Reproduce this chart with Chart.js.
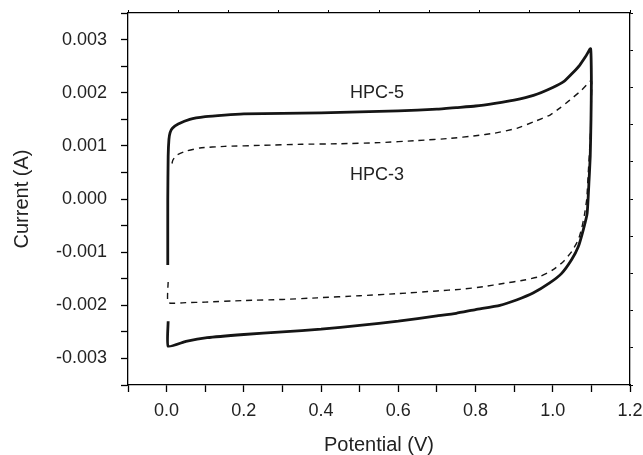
<!DOCTYPE html>
<html>
<head>
<meta charset="utf-8">
<script src="https://cdn.jsdelivr.net/npm/chart.js@4/dist/chart.umd.min.js"></script>
<style>
	body { margin: 0; background: #fff; }
	#wrap { width: 643px; height: 455px; position: relative; }
</style>
</head>
<body>
<div id="wrap"><canvas id="cv"></canvas></div>
<script>
// HPC-5 loop (solid), potential in V, current in A
const hpc5Potential = [0.003, 0.003, 0.004, 0.006, 0.009, 0.015, 0.03, 0.06, 0.1, 0.15, 0.2, 0.3, 0.4, 0.5, 0.6, 0.7, 0.75, 0.8, 0.85, 0.9, 0.95, 1.0, 1.03, 1.05, 1.07, 1.085, 1.098,
	1.1, 1.099, 1.097, 1.094, 1.089, 1.079, 1.066, 1.049, 1.023, 0.992, 0.949, 0.906, 0.863, 0.8, 0.75, 0.7, 0.6, 0.5, 0.4, 0.3, 0.2, 0.105, 0.05, 0.004, 0.004];
const hpc5Current = [-0.00124, 0.0, 0.0008, 0.00112, 0.00125, 0.00133, 0.00141, 0.0015, 0.00155, 0.00158, 0.0016, 0.00161, 0.00162, 0.00164, 0.00166, 0.00169, 0.00172, 0.00175, 0.0018, 0.00186, 0.00195, 0.0021, 0.00222, 0.00236, 0.00252, 0.00268, 0.00283,
	0.0022, 0.0015, 0.0008, 0.00036, -0.00027, -0.00058, -0.0009, -0.00114, -0.0014, -0.00158, -0.00177, -0.0019, -0.002, -0.00208, -0.00215, -0.0022, -0.0023, -0.00238, -0.00245, -0.0025, -0.00255, -0.00261, -0.00268, -0.00277, -0.0023];

// HPC-3 loop (dashed)
const hpc3Potential = [0.004, 0.004, 0.05, 0.1, 0.2, 0.3, 0.39, 0.5, 0.6, 0.7, 0.76, 0.82, 0.871, 0.923, 0.966, 1.001, 1.027, 1.049, 1.066, 1.075, 1.082, 1.088, 1.092, 1.096, 1.099, 1.1, 1.1,
	1.075, 1.044, 1.02, 0.993, 0.95, 0.907, 0.85, 0.8, 0.734, 0.65, 0.55, 0.45, 0.35, 0.25, 0.15, 0.086, 0.05, 0.025, 0.016, 0.012];
const hpc3Current = [-0.00156, -0.00195, -0.00195, -0.00194, -0.00191, -0.00189, -0.00186, -0.00182, -0.00178, -0.00173, -0.0017, -0.00165, -0.00159, -0.00153, -0.00146, -0.00133, -0.00118, -0.00099, -0.00077, -0.00055, -0.0003, 0.0, 0.0005, 0.001, 0.0015, 0.0019, 0.00223,
	0.00205, 0.00186, 0.00172, 0.00158, 0.00145, 0.00133, 0.00124, 0.00119, 0.00114, 0.0011, 0.00106, 0.00104, 0.00103, 0.00101, 0.00099, 0.00096, 0.0009, 0.00082, 0.00073, 0.0006];

const seriesNames = ["HPC-5", "HPC-3"];

const toPoints = (xs, ys) => xs.map((x, i) => ({ x, y: ys[i] }));

const textColor = "#222";
const fontFamily = "'Liberation Sans', Arial, sans-serif";

// curve labels placed in data units
const curveLabels = {
	id: "curveLabels",
	afterDatasetsDraw(chart) {
		const { ctx, scales: { x, y } } = chart;
		const spots = [[0.545, 0.00199], [0.545, 0.00045]];
		ctx.save();
		ctx.font = "18px " + fontFamily;
		ctx.fillStyle = textColor;
		ctx.textAlign = "center";
		ctx.textBaseline = "middle";
		seriesNames.forEach((name, i) => {
			ctx.fillText(name, x.getPixelForValue(spots[i][0]), y.getPixelForValue(spots[i][1]));
		});
		ctx.restore();
	}
};

const axisLine = { display: true, color: "#000", width: 1.3 };

// fixed box for each axis, no extra room for overhanging labels
const fixSize = (prop, size) => (s) => {
	s[prop] = size;
	s.paddingTop = 0;
	s.paddingBottom = 0;
	s.paddingLeft = 0;
	s.paddingRight = 0;
};

new Chart(document.getElementById("cv"), {
	type: "scatter",
	data: {
		datasets: [
			{
				label: seriesNames[0],
				data: toPoints(hpc5Potential, hpc5Current),
				showLine: true,
				borderColor: "#151515",
				borderWidth: 2.8,
				pointRadius: 0,
				tension: 0.15
			},
			{
				label: seriesNames[1],
				data: toPoints(hpc3Potential, hpc3Current),
				showLine: true,
				borderColor: "#151515",
				borderWidth: 1.4,
				borderDash: [6, 5],
				pointRadius: 0,
				tension: 0.15
			}
		]
	},
	options: {
		responsive: true,
		maintainAspectRatio: false,
		animation: false,
		layout: { padding: 0 },
		plugins: { legend: { display: false }, tooltip: { enabled: false } },
		scales: {
			x: {
				type: "linear",
				position: "bottom",
				min: -0.1,
				max: 1.2,
				afterFit: fixSize("height", 70),
				ticks: {
					stepSize: 0.1,
					autoSkip: false,
					maxRotation: 0,
					padding: 8,
					color: textColor,
					font: { family: fontFamily, size: 18 },
					callback: (v) => {
						const n = Math.round(v * 10);
						return n >= 0 && n % 2 === 0 ? (n / 10).toFixed(1) : "";
					}
				},
				grid: { drawOnChartArea: false, drawTicks: true, tickLength: 7, tickColor: "#000", tickWidth: 1.3 },
				border: axisLine,
				title: {
					display: true,
					text: "Potential (V)",
					color: textColor,
					font: { family: fontFamily, size: 20, lineHeight: 1 },
					padding: { top: 0, bottom: 0 }
				}
			},
			y: {
				type: "linear",
				position: "left",
				min: -0.0035,
				max: 0.0035,
				afterFit: fixSize("width", 128),
				ticks: {
					stepSize: 0.0005,
					autoSkip: false,
					padding: 14,
					color: textColor,
					font: { family: fontFamily, size: 18 },
					callback: (v) => {
						const n = Math.round(v * 2000);
						return n % 2 === 0 ? (n / 2000).toFixed(3) : "";
					}
				},
				grid: { drawOnChartArea: false, drawTicks: true, tickLength: 7, tickColor: "#000", tickWidth: 1.3 },
				border: axisLine,
				title: {
					display: true,
					text: "Current (A)",
					color: textColor,
					font: { family: fontFamily, size: 20, lineHeight: 1 },
					padding: { top: 12, bottom: 0 }
				}
			},
			x2: {
				type: "linear",
				position: "top",
				min: 0,
				max: 10,
				afterFit: fixSize("height", 13),
				ticks: { display: false, stepSize: 1 },
				grid: { drawOnChartArea: false, drawTicks: true, tickLength: 3, tickColor: "#000" },
				border: axisLine
			},
			y2: {
				type: "linear",
				position: "right",
				min: 0,
				max: 10,
				afterFit: fixSize("width", 13),
				ticks: { display: false, stepSize: 1 },
				grid: { drawOnChartArea: false, drawTicks: true, tickLength: 3, tickColor: "#000" },
				border: axisLine
			}
		}
	},
	plugins: [curveLabels]
});
</script>
</body>
</html>
